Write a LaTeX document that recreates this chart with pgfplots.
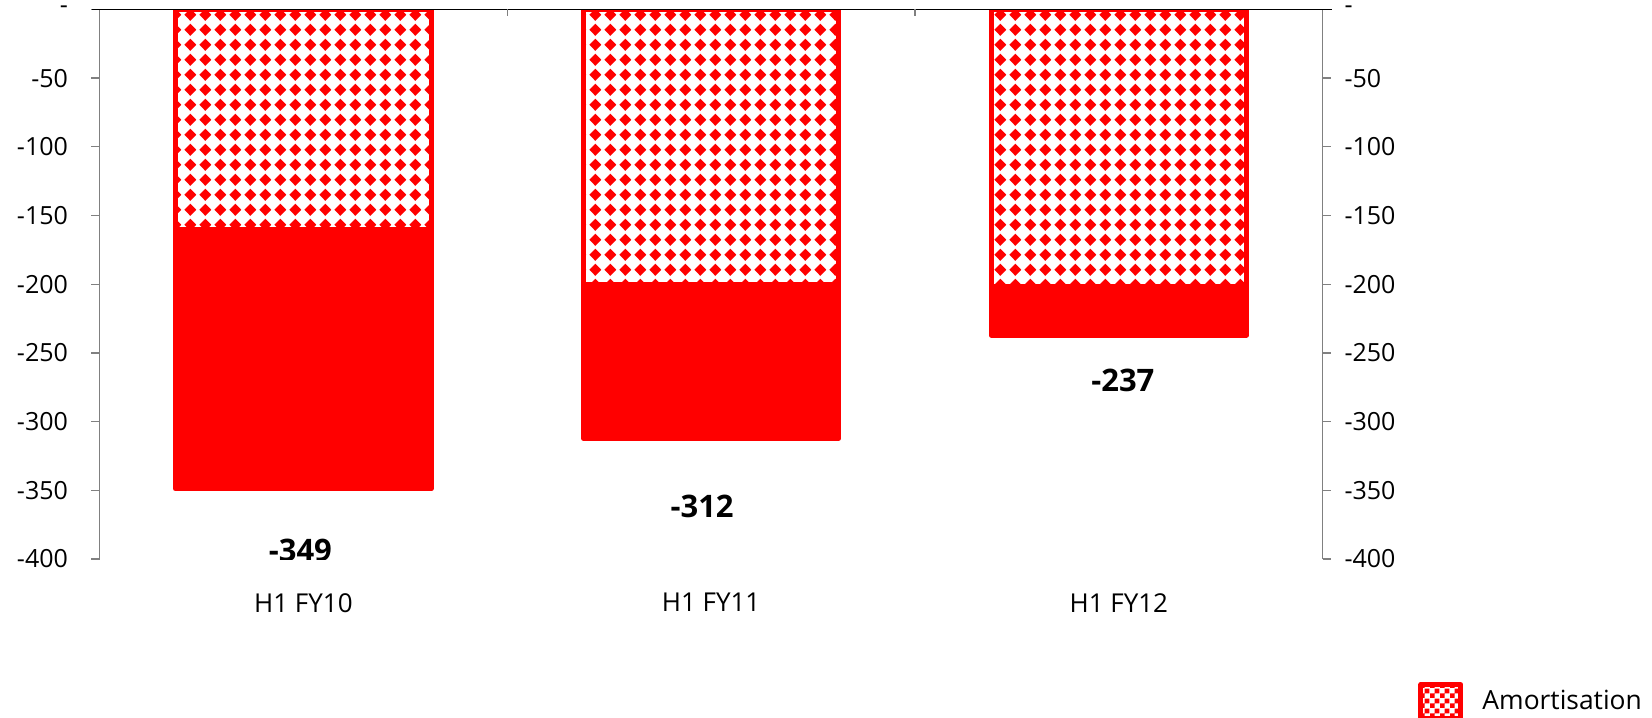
\documentclass[border=0pt]{standalone}
\usepackage{fontspec}
\setmainfont{Open Sans}
\usepackage{pgfplots}
\usepackage{pgfplotstable}
\pgfplotsset{compat=1.18}
\usetikzlibrary{patterns.meta}

% diamond lattice used to fill the amortisation part of each bar
\pgfdeclarepattern{
  name=diamondgrid, type=uncolored,
  bottom left={\pgfpoint{0pt}{0pt}},
  top right={\pgfpoint{7.67pt}{7.33pt}},
  tile size={\pgfpoint{7.67pt}{7.33pt}},
  code={
    \pgfpathmoveto{\pgfpoint{3.835pt}{0.565pt}}
    \pgfpathlineto{\pgfpoint{6.935pt}{3.665pt}}
    \pgfpathlineto{\pgfpoint{3.835pt}{6.765pt}}
    \pgfpathlineto{\pgfpoint{0.735pt}{3.665pt}}
    \pgfpathclose
    \pgfusepath{fill}
  }
}
% small checkerboard for the legend swatch
\pgfdeclarepattern{
  name=smallchecker, type=uncolored,
  bottom left={\pgfpoint{0pt}{0pt}},
  top right={\pgfpoint{5pt}{5pt}},
  tile size={\pgfpoint{5pt}{5pt}},
  code={
    \pgfpathrectangle{\pgfpoint{0pt}{0pt}}{\pgfpoint{2.5pt}{2.5pt}}
    \pgfpathrectangle{\pgfpoint{2.5pt}{2.5pt}}{\pgfpoint{2.5pt}{2.5pt}}
    \pgfusepath{fill}
  }
}

\definecolor{barred}{RGB}{255,0,0}
\definecolor{axisgray}{RGB}{128,128,128}

% half-year costs: total and amortisation part
\pgfplotstableread{
x total amort
0 -349 -160
1 -312 -200
2 -237 -202
}\costdata

\begin{document}
\begin{tikzpicture}
\useasboundingbox (-49.75pt,-79pt) rectangle (776.25pt,279.5pt);

\pgfplotsset{
  costframe/.style={
    scale only axis, width=611.6pt, height=274.8pt,
    xmin=-0.5, xmax=2.5, ymin=-400, ymax=0,
    ytick={-400,-350,...,0},
    yticklabels={-400,-350,-300,-250,-200,-150,-100,-50,{-}},
    tick label style={font=\fontsize{12.5}{15}\selectfont, text=black},
    major tick length=4pt,
    every tick/.style={axisgray, line width=0.6pt},
    y axis line style={axisgray, line width=0.6pt, -},
    y tick style={axisgray, line width=0.6pt},
  }
}

% left value axis, bars and legend
\begin{axis}[
  costframe,
  axis y line*=left,
  axis x line*=top,
  x axis line style={draw=none},
  xtick=\empty,
  ytick align=outside,
  yticklabel style={anchor=east, inner sep=0pt, xshift=-11.6pt},
  ybar, bar width=127.8pt, bar shift=0pt,
  legend style={at={(rel axis cs:1.0796,-0.2592)}, anchor=west,
    draw=none, fill=none, inner sep=0pt, column sep=10.6pt,
    font=\fontsize{13.2}{16}\selectfont,
    nodes={inner sep=0pt}},
  legend cell align=left,
]
\addplot[draw=barred, fill=barred, line width=2.5pt, line join=round,
  forget plot] table[x=x, y=total] {\costdata};
\addplot[draw=barred, line width=2.5pt, line join=round,
  preaction={fill=white}, pattern=diamondgrid, pattern color=barred,
  legend image code/.code={
    \draw[barred, line width=0.4pt, pattern=smallchecker, pattern color=barred]
      (0pt,-8.4pt) rectangle (20pt,8.4pt);}
  ] table[x=x, y=amort] {\costdata};
\addlegendentry{Amortisation}

\node[font=\bfseries\fontsize{15.5}{18}\selectfont, xshift=-1.5pt] at (axis cs:0,-393.4) {-349};
\node[font=\bfseries\fontsize{15.5}{18}\selectfont, xshift=-4.5pt] at (axis cs:1,-362) {-312};
\node[font=\bfseries\fontsize{15.5}{18}\selectfont, xshift=2pt] at (axis cs:2,-269.7) {-237};
\end{axis}

% right value axis and category names
\begin{axis}[
  costframe,
  axis y line*=right,
  axis x line*=bottom,
  x axis line style={draw=none},
  xtick={0,1,2},
  xticklabels={H1 FY10,H1 FY11,H1 FY12},
  x tick style={draw=none},
  xticklabel style={anchor=north, inner sep=0pt, yshift=-17pt,
    font=\fontsize{13}{15}\selectfont},
  ytick align=outside,
  yticklabel style={anchor=west, inner sep=0pt, xshift=6.7pt},
]
\end{axis}

% zero line across the top, with the category separators hanging from it
\draw[black, line width=0.6pt] (-4pt,274.8pt) -- (616.1pt,274.8pt);
\draw[axisgray, line width=0.6pt] (203.87pt,274.8pt) -- ++(0,-3.5pt)
                                   (407.73pt,274.8pt) -- ++(0,-3.5pt);
\end{tikzpicture}
\end{document}
